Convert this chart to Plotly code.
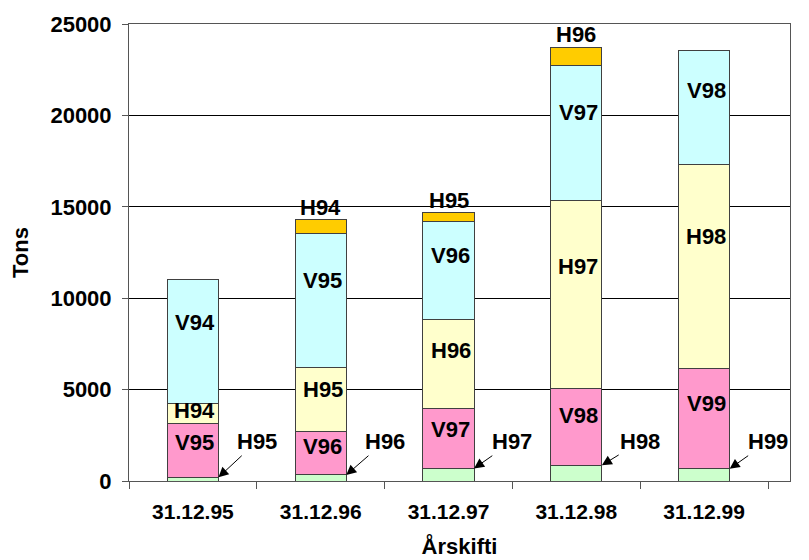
import plotly.graph_objects as go

categories = ["31.12.95", "31.12.96", "31.12.97", "31.12.98", "31.12.99"]

green = [200, 330, 690, 860, 670]
pink = [2950, 2370, 3280, 4210, 5460]
yellow = [1100, 3520, 4880, 10260, 11160]
cyan = [6800, 7330, 5340, 7410, 6250]
orange = [0, 740, 490, 980, 0]

green_labels = ["H95", "H96", "H97", "H98", "H99"]
pink_labels = ["V95", "V96", "V97", "V98", "V99"]
yellow_labels = ["H94", "H95", "H96", "H97", "H98"]
cyan_labels = ["V94", "V95", "V96", "V97", "V98"]
orange_labels = ["", "H94", "H95", "H96", ""]

y_ticks = [0, 5000, 10000, 15000, 20000, 25000]
y_tick_text = ["0", "5000", "10000", "15000", "20000", "25000"]

FONT = "Liberation Sans"
BAR_W = 0.4
LBL = 22

series = [
    (green, green_labels, "#CCFFCC"),
    (pink, pink_labels, "#FF99CC"),
    (yellow, yellow_labels, "#FFFFCC"),
    (cyan, cyan_labels, "#CCFFFF"),
    (orange, orange_labels, "#FFCC00"),
]

fig = go.Figure()
for vals, labs, col in series:
    fig.add_trace(go.Bar(
        x=categories, y=vals, width=BAR_W,
        marker=dict(color=col, line=dict(color="#404040", width=1)),
        showlegend=False, hoverinfo="skip",
    ))

annotations = []
base = [0] * len(categories)
for k, (vals, labs, col) in enumerate(series):
    for i, v in enumerate(vals):
        top = base[i] + v
        if k == 0:
            annotations.append(dict(
                x=i + BAR_W / 2, y=top, xref="x", yref="y",
                ax=i + 0.5, ay=2150, axref="x", ayref="y",
                text=labs[i], showarrow=True, arrowhead=2, arrowsize=2,
                arrowwidth=1, arrowcolor="black", standoff=0,
                font=dict(family=FONT, size=LBL, color="black", weight="bold"),
            ))
        elif k == 4:
            if v > 0:
                annotations.append(dict(
                    x=i, y=top, xref="x", yref="y", yanchor="bottom",
                    text=labs[i], showarrow=False, yshift=-2,
                    font=dict(family=FONT, size=LBL, color="black", weight="bold"),
                ))
        else:
            annotations.append(dict(
                x=i, y=base[i] + 0.65 * v, xref="x", yref="y",
                text=labs[i], showarrow=False, xshift=2,
                font=dict(family=FONT, size=LBL, color="black", weight="bold"),
            ))
        base[i] = top

# page body has an 8px margin, so the figure is sized to fit the 809x560 window
fig.update_layout(
    barmode="stack",
    width=801, height=552,
    margin=dict(l=121, r=19, t=16, b=79),
    paper_bgcolor="white", plot_bgcolor="white",
    annotations=annotations,
    font=dict(family=FONT, color="black"),
    xaxis=dict(
        type="category", automargin=False,
        showline=True, linecolor="#555555", linewidth=1, mirror=True,
        ticks="outside", tickson="boundaries", ticklen=7, tickcolor="#555555",
        ticklabelstandoff=12,
        tickfont=dict(family=FONT, size=21, weight="bold"),
        title=dict(text="Årskifti", font=dict(family=FONT, size=22, weight="bold"), standoff=16),
        showgrid=False,
    ),
    yaxis=dict(
        range=[0, 25000], tickvals=y_ticks, ticktext=y_tick_text, automargin=False,
        showline=True, linecolor="#555555", linewidth=1, mirror=True,
        ticks="outside", ticklen=6, tickcolor="#555555",
        ticklabelstandoff=6,
        tickfont=dict(family=FONT, size=22, weight="bold"),
        showgrid=True, gridcolor="black", gridwidth=1, zeroline=False,
        title=dict(text="Tons", font=dict(family=FONT, size=22, weight="bold"), standoff=16),
    ),
)

fig.write_html("out.html")
